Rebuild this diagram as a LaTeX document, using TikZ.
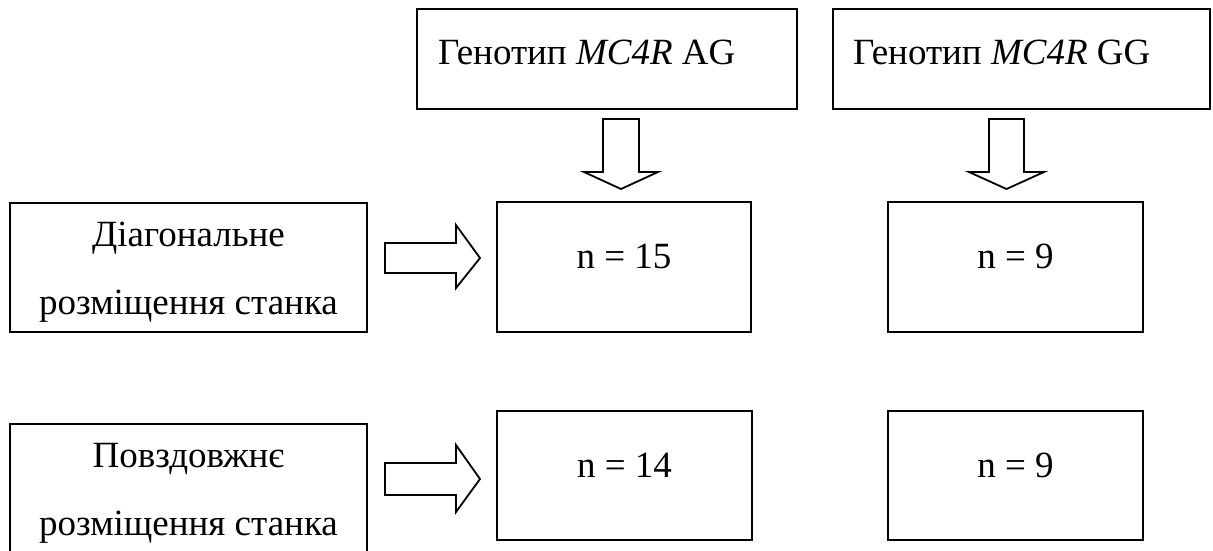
\documentclass[tikz,border=0pt]{standalone}
\usepackage{fontspec}
\setmainfont{Liberation Serif}
\begin{document}
\begin{tikzpicture}[x=1pt,y=-1pt,
  box/.style={draw, line width=2pt, inner sep=0pt, rectangle},
  txt/.style={inner sep=0pt, anchor=base, font=\fontsize{37}{44}\selectfont},
  blockarrow/.style={draw, line width=1.8pt, line join=miter, fill=white}]
\useasboundingbox (0,0) rectangle (1213,550);
\clip (0,0) rectangle (1213,550);
% boxes
\node[box, minimum width=380pt, minimum height=100pt] (g1) at (607,59) {};
\node[box, minimum width=377pt, minimum height=100pt] (g2) at (1021.5,59) {};
\node[box, minimum width=254pt, minimum height=130pt] (a1) at (624,267) {};
\node[box, minimum width=255pt, minimum height=130pt] (b1) at (1015.5,267) {};
\node[box, minimum width=255pt, minimum height=129pt] (a2) at (624.5,475.5) {};
\node[box, minimum width=255pt, minimum height=129pt] (b2) at (1015.5,475.5) {};
\node[box, minimum width=357pt, minimum height=129pt] (l1) at (188.5,267.5) {};
\node[box, minimum width=357pt, minimum height=129pt] (l2) at (188.5,488.5) {};
% texts
\node[txt, anchor=base west] (g1t) at (438,64) {Генотип \textit{MC4R} AG};
\node[txt, anchor=base west] (g2t) at (853,64) {Генотип \textit{MC4R} GG};
\node[txt] (a1t) at (624,268) {n = 15};
\node[txt] (b1t) at (1015.5,268) {n = 9};
\node[txt] (a2t) at (624.5,477) {n = 14};
\node[txt] (b2t) at (1015.5,477) {n = 9};
\node[txt] (l1a) at (188.5,246) {Діагональне};
\node[txt] (l1b) at (188.5,314) {розміщення станка};
\node[txt] (l2a) at (188.5,467) {Повздовжнє};
\node[txt] (l2b) at (188.5,535) {розміщення станка};
% block arrows
\draw[blockarrow] (603,119) -- (639,119) -- (639,172) -- (658,172) -- (621,189) -- (584,172) -- (603,172) -- cycle;
\draw[blockarrow] (989,119) -- (1024,119) -- (1024,172) -- (1044,172) -- (1006.5,189) -- (969,172) -- (989,172) -- cycle;
\draw[blockarrow] (385,243) -- (456,243) -- (456,225) -- (480,258) -- (456,288) -- (456,273) -- (385,273) -- cycle;
\draw[blockarrow] (385,463) -- (456,463) -- (456,445) -- (480,479) -- (456,512) -- (456,495) -- (385,495) -- cycle;
\end{tikzpicture}
\end{document}
